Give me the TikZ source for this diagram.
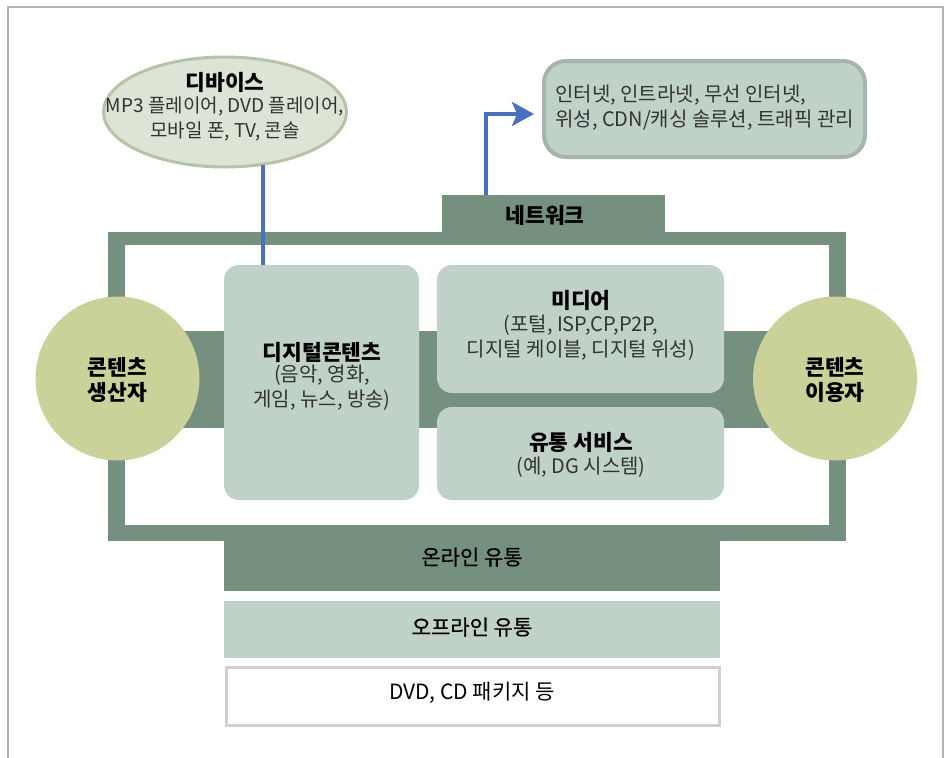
\documentclass[tikz,border=0pt]{standalone}
\usepackage{fontspec}
\setmainfont{Noto Sans CJK KR}
\newfontfamily\medfont{Noto Sans CJK KR}[FakeBold=0.6]
\usetikzlibrary{shapes.geometric,arrows.meta}
\definecolor{dkgreen}{HTML}{75907F}
\definecolor{ltgreen}{HTML}{C0D1C8}
\definecolor{circfill}{HTML}{CAD29A}
\definecolor{ellfill}{HTML}{DDE3D5}
\definecolor{elldraw}{HTML}{B5C3A9}
\definecolor{netdraw}{HTML}{A6B4AB}
\definecolor{arrowblue}{HTML}{4D6FBF}
\definecolor{framegray}{HTML}{B3B3B3}
\definecolor{dvdgray}{HTML}{D0D0D0}
\definecolor{subtext}{HTML}{333333}
\tikzset{
  head/.style={font=\fontsize{21.5}{25}\selectfont\bfseries, text=black, align=center, inner sep=0pt},
  sub/.style={font=\fontsize{20}{25}\selectfont, text=subtext, align=center, inner sep=0pt},
  band/.style={font=\fontsize{21}{25}\selectfont\medfont, text=black, inner sep=0pt},
  cbox/.style={fill=ltgreen, draw=none, rounded corners=15pt, inner sep=0pt},
  circ/.style={circle, fill=circfill, draw=none, minimum size=164pt, inner sep=0pt},
  bar/.style={fill=dkgreen, draw=none, inner sep=0pt},
  blueline/.style={draw=arrowblue, line width=4pt},
}
\begin{document}
\begin{tikzpicture}[x=1pt,y=-1pt]
\useasboundingbox (0,0) rectangle (951,758);
% outer page frame
\draw[framegray, line width=2.5pt] (8,758) -- (8,7) -- (943,7) -- (943,758);
% big frame
\fill[dkgreen] (108,232) rectangle (846,541);
\fill[white] (125,245) rectangle (829,525);
\fill[dkgreen] (150,331) rectangle (800,428);
% network tab
\node[bar, minimum width=223pt, minimum height=38pt] (net) at (553.5,213.5) {};
\node[head] (netT) at (545,215) {네트워크};
% online distribution
\node[bar, minimum width=496pt, minimum height=50pt] (online) at (472,565.5) {};
\node[band] (onlineT) at (472,557) {온라인 유통};
% offline
\node[fill=ltgreen, minimum width=496pt, minimum height=57pt, inner sep=0pt] (offline) at (472,629.5) {};
\node[band] (offlineT) at (472,627) {오프라인 유통};
% dvd
\node[fill=white, draw=dvdgray, line width=3pt, minimum width=493pt, minimum height=58pt, inner sep=0pt] (dvd) at (472.5,696) {};
\node[band, font=\fontsize{21}{25}\selectfont] (dvdT) at (472,693) {DVD, CD 패키지 등};
% circles
\node[circ] (prod) at (117.5,378.5) {};
\node[head] (prodT) at (117.5,380) {콘텐츠\\생산자};
\node[circ] (cons) at (835,378.5) {};
\node[head] (consT) at (835,380) {콘텐츠\\이용자};
% content boxes
\node[cbox, minimum width=195pt, minimum height=235pt] (digital) at (321.5,382.5) {};
\node[head] (digitalH) at (322,352) {디지털콘텐츠};
\node[sub] (digitalS) at (322,388) {(음악, 영화,\\게임, 뉴스, 방송)};
\node[cbox, minimum width=287pt, minimum height=128pt] (media) at (580.5,329) {};
\node[head] (mediaH) at (581,300) {미디어};
\node[sub] (mediaS) at (581,338) {(포털, ISP,CP,P2P,\\디지털 케이블, 디지털 위성)};
\node[cbox, minimum width=287pt, minimum height=93pt] (dist) at (580.5,453.5) {};
\node[head] (distH) at (581,442) {유통 서비스};
\node[sub] (distS) at (581,467) {(예, DG 시스템)};
% device ellipse
\node[ellipse, fill=ellfill, draw=elldraw, line width=3pt, minimum width=243pt, minimum height=110pt, inner sep=0pt] (dev) at (225,112) {};
\node[head] (devH) at (225,82) {디바이스};
\node[sub, font=\fontsize{19}{25}\selectfont] (devS) at (225,119) {MP3 플레이어, DVD 플레이어,\\모바일 폰, TV, 콘솔};
% network box
\node[fill=ltgreen, draw=netdraw, line width=4pt, rounded corners=22pt, minimum width=321pt, minimum height=96pt, inner sep=0pt] (netbox) at (704.5,109) {};
\node[sub, align=left, anchor=west] (netboxT) at (555,108) {인터넷, 인트라넷, 무선 인터넷,\\위성, CDN/캐싱 솔루션, 트래픽 관리};
% connectors
\coordinate (d1) at (263,165);
\draw[blueline] (d1) -- (d1 |- digital.north);
\coordinate (a1) at (486,195);
\draw[blueline, -{Stealth[length=22pt,width=24pt,inset=5pt]}, shorten >=8pt] (a1) |- ([yshift=-5pt]netbox.west);
\end{tikzpicture}
\end{document}
